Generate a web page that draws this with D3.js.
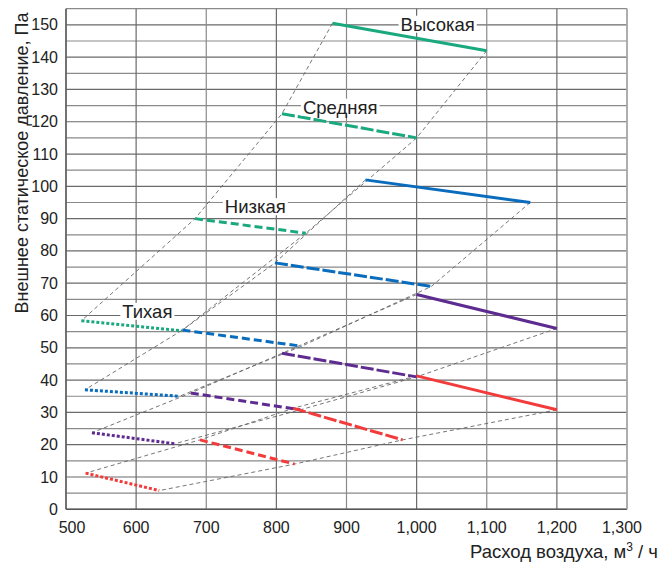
<!DOCTYPE html>
<html><head><meta charset="utf-8">
<script src="https://cdn.jsdelivr.net/npm/d3@7"></script>
<style>body{margin:0;background:#fff}svg text{font-family:"Liberation Sans Narrow","Liberation Sans",Arial,sans-serif}</style>
</head><body><svg id="c" width="666" height="565"></svg>
<script>
// ---- data ----
const speeds = ["Высокая", "Средняя", "Низкая", "Тихая"];
const greenX0 = [880, 808, 684, 522], greenY0 = [150.5, 122.5, 90, 58.4];
const greenX1 = [1100, 1000, 842, 665], greenY1 = [142, 115, 85.5, 55.3];
const blueX0 = [927, 798, 666, 527], blueY0 = [102, 76.3, 55.5, 37];
const blueX1 = [1162, 1021, 836, 662], blueY1 = [95, 69, 50.5, 35];
const purpleX0 = [1000, 808, 678, 537], purpleY0 = [66.5, 48.3, 36, 23.7];
const purpleX1 = [1200, 1000, 834, 655], purpleY1 = [56, 41, 30.8, 20.3];
const redX0 = [1000, 824, 691, 528], redY0 = [41.3, 31.3, 21.5, 11.2];
const redX1 = [1200, 980, 826, 633], redY1 = [30.8, 21.5, 14, 5.8];
const labelX = [1030, 891, 770, 616], labelY = [150.2, 124.5, 93.7, 61.3];
const xTicks = [500, 600, 700, 800, 900, 1000, 1100, 1200, 1300];
const yTicks = [0, 10, 20, 30, 40, 50, 60, 70, 80, 90, 100, 110, 120, 130, 140, 150];
const yGrid = d3.range(0, 156, 5);

const models = [
  {color: "#1aa97e", x0: greenX0, y0: greenY0, x1: greenX1, y1: greenY1},
  {color: "#0a6cbc", x0: blueX0, y0: blueY0, x1: blueX1, y1: blueY1},
  {color: "#5e2b91", x0: purpleX0, y0: purpleY0, x1: purpleX1, y1: purpleY1},
  {color: "#f23b3b", x0: redX0, y0: redY0, x1: redX1, y1: redY1}
];
const dashes = [null, "13,3", "8,4", "3,2"];

// ---- layout ----
const L = 66, R = 627, T = 8.7, B = 509.3;
const x = d3.scaleLinear().domain([500, 1300]).range([L, R]);
const y = d3.scaleLinear().domain([0, 155]).range([B, T]);
const svg = d3.select("#c");

// grid
svg.append("g").selectAll("line").data(yGrid).join("line")
  .attr("x1", L).attr("x2", R).attr("y1", d => y(d)).attr("y2", d => y(d))
  .attr("stroke", (d, i) => i % 2 ? "#8a8a8a" : "#6a6a6a").attr("stroke-width", 1.2);
svg.append("g").selectAll("line").data(xTicks).join("line")
  .attr("x1", d => x(d)).attr("x2", d => x(d)).attr("y1", T).attr("y2", B)
  .attr("stroke", (d, i) => i % 2 ? "#6a6a6a" : "#8a8a8a").attr("stroke-width", 1.2);
svg.append("line").attr("x1", L).attr("x2", L).attr("y1", T).attr("y2", B).attr("stroke", "#555").attr("stroke-width", 1.4);
svg.append("line").attr("x1", L).attr("x2", R).attr("y1", B).attr("y2", B).attr("stroke", "#555").attr("stroke-width", 1.4);
svg.append("line").attr("x1", R).attr("x2", R).attr("y1", T).attr("y2", B).attr("stroke", "#aaa").attr("stroke-width", 1.4);

// envelope dashed thin lines
const env = d3.line().x(d => x(d[0])).y(d => y(d[1]));
models.forEach(m => {
  [[m.x0, m.y0], [m.x1, m.y1]].forEach(([xs, ys]) => {
    const pts = xs.map((v, i) => [v, ys[i]]);
    svg.append("path").attr("d", env(pts)).attr("fill", "none")
      .attr("stroke", "#666").attr("stroke-width", 0.9).attr("stroke-dasharray", "4,3");
  });
});

// speed lines
models.forEach(m => {
  speeds.forEach((s, i) => {
    svg.append("line")
      .attr("x1", x(m.x0[i])).attr("y1", y(m.y0[i]))
      .attr("x2", x(m.x1[i])).attr("y2", y(m.y1[i]))
      .attr("stroke", m.color).attr("stroke-width", 3)
      .attr("stroke-dasharray", dashes[i]);
  });
});

// labels with white boxes
speeds.forEach((s, i) => {
  const g = svg.append("g");
  const t = g.append("text").attr("x", x(labelX[i])).attr("y", y(labelY[i]))
    .attr("text-anchor", "middle").attr("dominant-baseline", "central")
    .attr("font-size", 18.5).attr("fill", "#222").text(s);
  const bb = t.node().getBBox();
  g.insert("rect", "text").attr("x", bb.x - 2).attr("y", bb.y + 2)
    .attr("width", bb.width + 4).attr("height", bb.height - 4).attr("fill", "#fff");
});

// tick labels
svg.append("g").selectAll("text").data(yTicks).join("text")
  .attr("x", 58).attr("y", d => y(d)).attr("text-anchor", "end")
  .attr("dominant-baseline", "central").attr("font-size", 16).attr("fill", "#222")
  .text(d => d);
const fmt = d3.format(",");
svg.append("g").selectAll("text").data(xTicks).join("text")
  .attr("x", (d, i) => x(d) + (i === 0 ? 6 : i === xTicks.length - 1 ? -5 : 0))
  .attr("y", 533).attr("text-anchor", "middle").attr("font-size", 16).attr("fill", "#222")
  .text(d => fmt(d));

// axis titles
svg.append("text").attr("transform", "translate(28,163) rotate(-90)")
  .attr("text-anchor", "middle").attr("font-size", 18).attr("fill", "#222")
  .text("Внешнее статическое давление, Па");
const xt = svg.append("text").attr("x", 658).attr("y", 558).attr("text-anchor", "end")
  .attr("font-size", 18.5).attr("fill", "#222");
xt.append("tspan").text("Расход воздуха, м");
xt.append("tspan").attr("dy", -7).attr("font-size", 12).text("3");
xt.append("tspan").attr("dy", 7).text(" / ч");
</script></body></html>
